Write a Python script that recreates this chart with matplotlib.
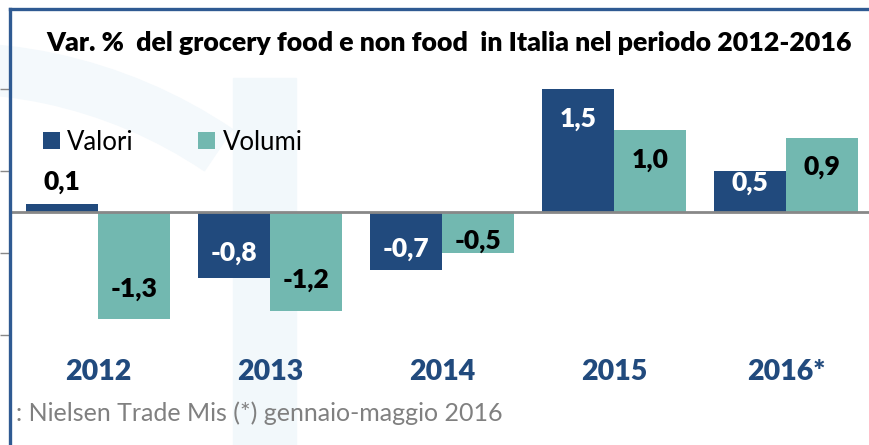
import matplotlib.pyplot as plt
import numpy as np
from matplotlib.patches import Rectangle, Wedge
from matplotlib.lines import Line2D

years = ['2012', '2013', '2014', '2015', '2016*']
valori = [0.1, -0.8, -0.7, 1.5, 0.5]
volumi = [-1.3, -1.2, -0.5, 1.0, 0.9]
title = 'Var. %  del grocery food e non food  in Italia nel periodo 2012-2016'
source = ': Nielsen Trade Mis (*) gennaio-maggio 2016'

c_valori = '#214A7D'
c_volumi = '#72B8B0'
c_frame = '#2F5A92'
c_pale = '#F2F8FB'

W, H = 870, 445
plt.rcParams['font.family'] = ['Lato', 'DejaVu Sans']

fig = plt.figure(figsize=(W / 100, H / 100), dpi=100)
fig.patch.set_facecolor('white')


def px(x, y):
    # pixel (top-down) -> figure fraction
    return x / W, 1 - y / H


# faint watermark shapes behind everything
fig.patches.append(Wedge((-50, -103), 505, 56, 100, width=50,
                         transform=None, color='#F4F9FC', zorder=-5))
fig.patches.append(Rectangle(px(233, 445), 63 / W, 367 / H,
                             transform=fig.transFigure, color=c_pale, zorder=-5))

ax = fig.add_axes([10 / W, 0, 1 - 10 / W, 1])
ax.patch.set_alpha(0)

x = np.arange(len(years))
bw = 0.416
ax.bar(x - bw / 2, valori, bw, color=c_valori, label='Valori', zorder=2)
ax.bar(x + bw / 2, volumi, bw, color=c_volumi, label='Volumi', zorder=2)
ax.axhline(0, color='#888888', lw=2, zorder=3)

ax.set_xlim(-88 / 172, 772 / 172)
ax.set_ylim(-(H - 212) / 82.3, 212 / 82.3)

for s in ax.spines.values():
    s.set_visible(False)
ax.set_yticks([-1.5, -0.5, 0.5, 1.5])
ax.set_yticklabels([])
ax.tick_params(axis='y', direction='out', length=7, width=1, color='#888888')
ax.set_xticks([])


def label_offset(v):
    return min(0.37, 0.5 * abs(v) - 0.1)


def fmt(v):
    return f'{v:.1f}'.replace('.', ',')


for i, v in enumerate(valori):
    if abs(v) < 0.3:
        ax.text(i - bw / 2, v + 0.27, fmt(v), ha='center', va='center',
                fontsize=19, fontweight='heavy', color='black', zorder=4)
    else:
        y = v - np.sign(v) * label_offset(v)
        ax.text(i - bw / 2, y, fmt(v), ha='center', va='center',
                fontsize=19, fontweight='heavy', color='white', zorder=4)
for i, v in enumerate(volumi):
    y = v - np.sign(v) * label_offset(v)
    ax.text(i + bw / 2, y, fmt(v), ha='center', va='center',
            fontsize=19, fontweight='heavy', color='black', zorder=4)

for i, yr in enumerate(years):
    ax.text(i, -(372 - 212) / 82.3, yr, ha='center', va='center',
            fontsize=20.5, fontweight='heavy', color=c_valori)

fig.text(*px(449, 43), title, ha='center', va='center', fontsize=19.3, fontweight='heavy')
fig.text(*px(16, 413), source, ha='left', va='center', fontsize=18, color='#808080')

ax.legend(loc='center left', bbox_to_anchor=px(43, 142), bbox_transform=fig.transFigure,
          ncol=2, frameon=False, fontsize=18.5, handlelength=0.65, handleheight=0.65,
          handletextpad=0.3, columnspacing=2.5, borderaxespad=0, borderpad=0)

# frame
fig.add_artist(Line2D([10.5 / W, 10.5 / W], [0, 1 - 9 / H], transform=fig.transFigure,
                      color=c_frame, lw=2.4, solid_capstyle='projecting'))
fig.add_artist(Line2D([10.5 / W, 1], [1 - 9 / H, 1 - 9 / H], transform=fig.transFigure,
                      color=c_frame, lw=2.4, solid_capstyle='projecting'))

fig.savefig('out.png', dpi=100)
